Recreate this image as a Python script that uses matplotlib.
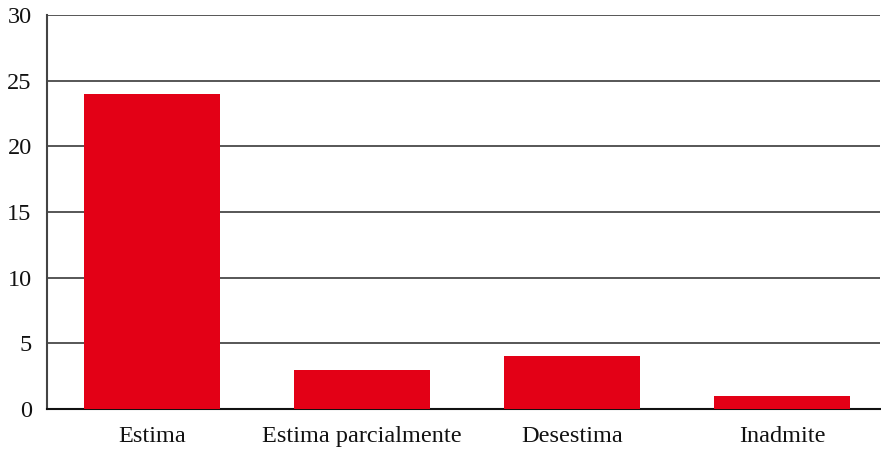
import matplotlib.pyplot as plt

categories = ["Estima", "Estima parcialmente", "Desestima", "Inadmite"]
values = [24, 3, 4, 1]
y_ticks = [0, 5, 10, 15, 20, 25, 30]

plt.rcParams["font.family"] = ["Liberation Serif", "DejaVu Serif"]

fig = plt.figure(figsize=(8.81, 4.65), dpi=100)
ax = fig.add_axes([47 / 881, 1 - 409 / 465, 833 / 881, 394 / 465])

ax.bar(range(len(categories)), values, width=0.65, color="#e30016", zorder=3)

ax.set_xlim(-0.5, 3.467)
ax.set_ylim(0, 30)
ax.set_yticks(y_ticks)
ax.set_xticks(range(len(categories)))
ax.set_xticklabels(categories)

ax.yaxis.grid(True, color="#3a3a3a", linewidth=1.2, zorder=1)
ax.set_axisbelow(True)

for side in ["top", "right"]:
    ax.spines[side].set_visible(False)
ax.spines["left"].set_color("#444444")
ax.spines["left"].set_linewidth(1.5)
ax.spines["bottom"].set_color("#111111")
ax.spines["bottom"].set_linewidth(1.5)

ax.tick_params(axis="both", length=0, labelsize=17.5, colors="#111111")
ax.tick_params(axis="x", pad=12)
ax.tick_params(axis="y", pad=11)

fig.savefig("out.png", dpi=100)
